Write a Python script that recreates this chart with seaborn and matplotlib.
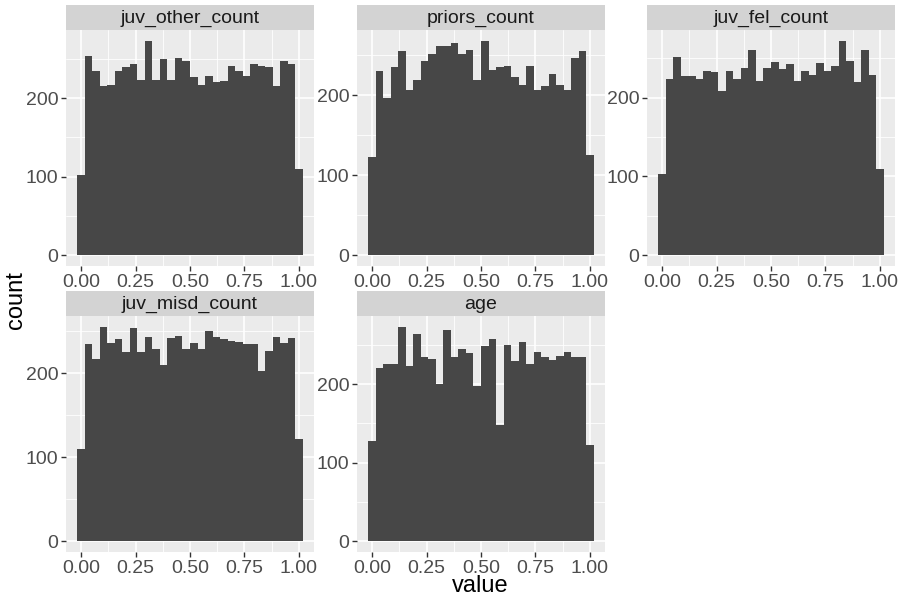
import numpy as np
import pandas as pd
import matplotlib
matplotlib.use("Agg")
import matplotlib.pyplot as plt
import seaborn as sns

# facet names in display order
panel_names = ["juv_other_count", "priors_count", "juv_fel_count", "juv_misd_count", "age"]

# bin counts (30 bins over 0..1)
juv_other_count = [102, 253, 234, 215, 217, 234, 240, 244, 223, 273, 223, 250, 223, 251, 247,
                   227, 217, 228, 221, 222, 241, 234, 228, 244, 241, 239, 216, 247, 244, 110]
priors_count = [123, 230, 196, 235, 255, 206, 219, 243, 251, 261, 261, 265, 251, 256, 219,
                268, 231, 235, 236, 223, 213, 236, 206, 211, 226, 213, 207, 246, 255, 125]
juv_fel_count = [103, 224, 251, 227, 227, 224, 234, 232, 208, 234, 224, 238, 260, 221, 238,
                 245, 236, 243, 221, 234, 229, 244, 234, 240, 272, 246, 220, 260, 229, 110]
juv_misd_count = [110, 235, 217, 255, 236, 240, 225, 254, 225, 243, 228, 209, 242, 244, 229,
                  236, 229, 250, 243, 240, 238, 237, 234, 235, 202, 226, 243, 236, 242, 122]
age = [127, 221, 226, 226, 273, 223, 264, 235, 232, 200, 269, 235, 245, 239, 197,
       249, 258, 148, 250, 230, 254, 225, 241, 235, 231, 236, 241, 235, 235, 122]

counts = {
    "juv_other_count": juv_other_count,
    "priors_count": priors_count,
    "juv_fel_count": juv_fel_count,
    "juv_misd_count": juv_misd_count,
    "age": age,
}

n_bins = 30
bin_centers = np.arange(n_bins) / (n_bins - 1)
bin_edges = (np.arange(n_bins + 1) - 0.5) / (n_bins - 1)

sns.set_style("darkgrid", {"axes.facecolor": "#EBEBEB", "grid.color": "white"})
plt.rcParams["font.family"] = ["Liberation Sans", "DejaVu Sans"]

fig = plt.figure(figsize=(9, 6), dpi=100)

W, H = 900, 600
lefts = [66, 357, 647]
tops = [30, 316]
pw, ph, sh = 248, 236, 25

for i, name in enumerate(panel_names):
    row, col = divmod(i, 3)
    l, t = lefts[col], tops[row]
    df = pd.DataFrame({"value": bin_centers, "count": counts[name]})
    ax = fig.add_axes([l / W, (H - t - ph) / H, pw / W, ph / H])
    sns.histplot(data=df, x="value", weights="count", bins=list(bin_edges), ax=ax,
                 color="#474747", edgecolor="none", linewidth=0, alpha=1)
    ymax = max(counts[name])
    ax.set_xlim(-0.0172 - 0.0517, 1.0172 + 0.0517)
    ax.set_ylim(-0.05 * ymax, 1.05 * ymax)
    ax.set_xticks([0, 0.25, 0.5, 0.75, 1.0])
    ax.set_xticklabels(["0.00", "0.25", "0.50", "0.75", "1.00"])
    ax.set_xticks([0.125, 0.375, 0.625, 0.875], minor=True)
    ax.set_yticks([0, 100, 200])
    ax.set_yticks([50, 150, 250], minor=True)
    ax.grid(which="major", color="white", linewidth=1.2)
    ax.grid(which="minor", color="white", linewidth=0.6)
    ax.set_axisbelow(True)
    for s in ax.spines.values():
        s.set_visible(False)
    ax.tick_params(which="major", length=3.5, width=1, color="#333333",
                   labelsize=14, labelcolor="#4D4D4D", pad=2,
                   bottom=True, left=True)
    ax.tick_params(which="minor", length=0)
    ax.set_xlabel("")
    ax.set_ylabel("")

    # facet strip
    sax = fig.add_axes([l / W, (H - t) / H, pw / W, sh / H])
    sax.set_facecolor("#D3D3D3")
    sax.set_xticks([])
    sax.set_yticks([])
    for s in sax.spines.values():
        s.set_visible(False)
    sax.text(0.5, 0.45, name, ha="center", va="center", fontsize=14,
             color="#1A1A1A", transform=sax.transAxes)

fig.text(480 / W, 1 - 586 / H, "value", ha="center", va="center", fontsize=17, color="black")
fig.text(16 / W, 0.5, "count", ha="center", va="center", rotation=90, fontsize=17, color="black")

fig.savefig("out.png", dpi=100, facecolor="white")
